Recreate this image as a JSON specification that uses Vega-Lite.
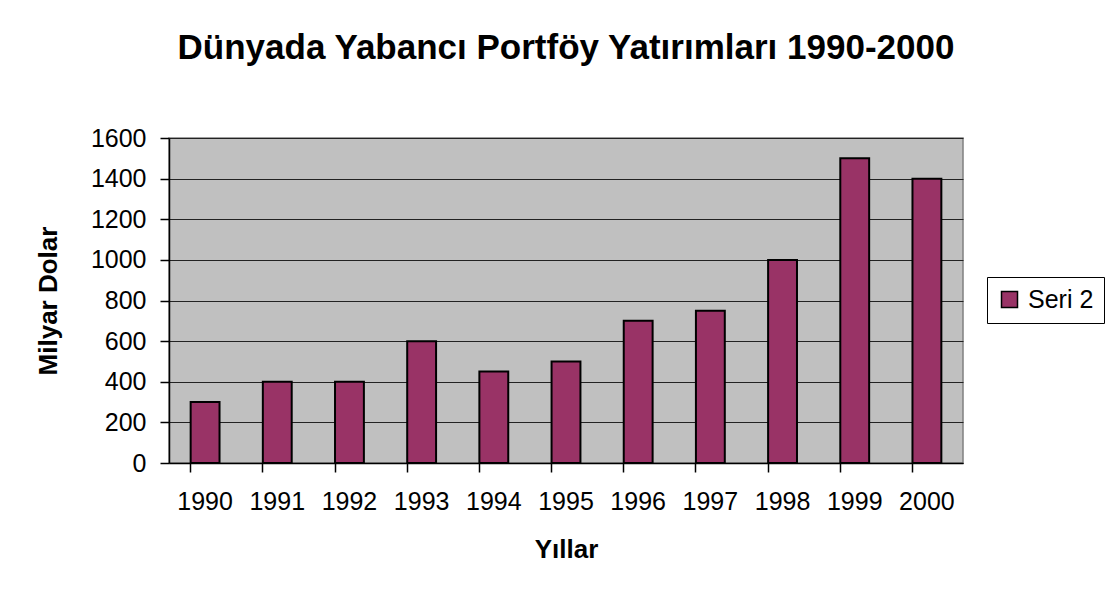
{
  "$schema": "https://vega.github.io/schema/vega-lite/v6.json",
  "autosize": "none",
  "width": 794,
  "height": 325,
  "padding": {"left": 169, "top": 138, "right": 147, "bottom": 142},
  "background": "white",
  "title": {
    "text": "Dünyada Yabancı Portföy Yatırımları 1990-2000",
    "font": "Liberation Sans",
    "fontSize": 35,
    "fontWeight": "bold",
    "color": "black",
    "anchor": "middle",
    "offset": 60
  },
  "data": {
    "values": [
      {"yil": "1990", "deger": 300, "seri": "Seri 2"},
      {"yil": "1991", "deger": 400, "seri": "Seri 2"},
      {"yil": "1992", "deger": 400, "seri": "Seri 2"},
      {"yil": "1993", "deger": 600, "seri": "Seri 2"},
      {"yil": "1994", "deger": 450, "seri": "Seri 2"},
      {"yil": "1995", "deger": 500, "seri": "Seri 2"},
      {"yil": "1996", "deger": 700, "seri": "Seri 2"},
      {"yil": "1997", "deger": 750, "seri": "Seri 2"},
      {"yil": "1998", "deger": 1000, "seri": "Seri 2"},
      {"yil": "1999", "deger": 1500, "seri": "Seri 2"},
      {"yil": "2000", "deger": 1400, "seri": "Seri 2"}
    ]
  },
  "mark": {"type": "bar", "stroke": "black", "strokeWidth": 2},
  "encoding": {
    "x": {
      "field": "yil",
      "type": "ordinal",
      "title": "Yıllar",
      "scale": {"paddingInner": 0.6, "paddingOuter": 0.3},
      "axis": {
        "labelAngle": 0,
        "bandPosition": 0,
        "domainColor": "black",
        "tickColor": "black",
        "tickSize": 9,
        "labelPadding": 17,
        "titlePadding": 22
      }
    },
    "y": {
      "field": "deger",
      "type": "quantitative",
      "title": "Milyar Dolar",
      "scale": {"domain": [0, 1600], "nice": false},
      "axis": {
        "values": [0, 200, 400, 600, 800, 1000, 1200, 1400, 1600],
        "format": "d",
        "domainColor": "black",
        "tickColor": "black",
        "tickSize": 9,
        "labelPadding": 14,
        "grid": true,
        "gridColor": "#222222",
        "gridWidth": 1,
        "titlePadding": 29
      }
    },
    "color": {
      "field": "seri",
      "type": "nominal",
      "title": null,
      "scale": {"range": ["#993366"]},
      "legend": {
        "orient": "none",
        "legendX": 818,
        "legendY": 139,
        "symbolType": "square",
        "symbolSize": 256,
        "symbolStrokeColor": "black",
        "symbolStrokeWidth": 1.5,
        "labelFontSize": 25,
        "labelFont": "Liberation Sans",
        "labelColor": "black",
        "strokeColor": "black",
        "padding": 10,
        "labelOffset": 6
      }
    }
  },
  "config": {
    "view": {"fill": "#C0C0C0", "stroke": "#808080", "strokeWidth": 1.5},
    "axis": {
      "labelFont": "Liberation Sans",
      "labelFontSize": 25,
      "labelColor": "black",
      "titleFont": "Liberation Sans",
      "titleFontSize": 26,
      "titleFontWeight": "bold",
      "titleColor": "black",
      "domainWidth": 1.5,
      "tickWidth": 1.5
    }
  }
}
